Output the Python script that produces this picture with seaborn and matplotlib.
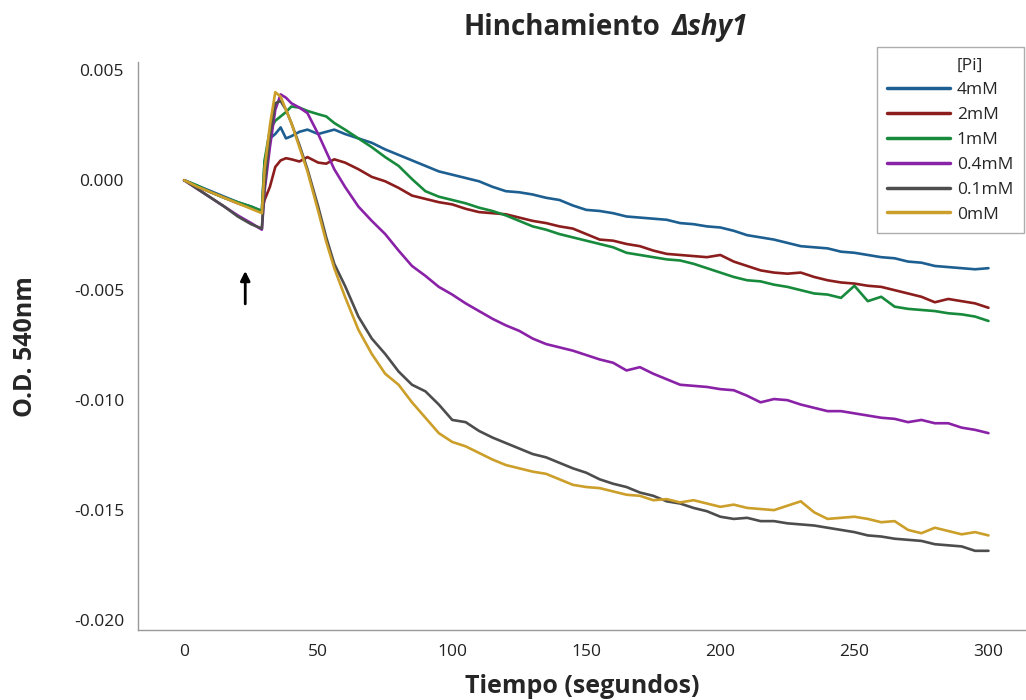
import numpy as np
import pandas as pd
import matplotlib.pyplot as plt
from matplotlib.lines import Line2D
import seaborn as sns

# tiempo (s)
tiempo = [0, 5, 10, 15, 20, 25, 29, 30, 32, 34, 36, 38, 40, 43, 46, 50, 53, 56,
          60, 65, 70, 75, 80, 85, 90, 95, 100, 105,
          110, 115, 120, 125, 130, 135, 140, 145, 150, 155,
          160, 165, 170, 175, 180, 185, 190, 195, 200, 205,
          210, 215, 220, 225, 230, 235, 240, 245, 250, 255,
          260, 265, 270, 275, 280, 285, 290, 295, 300]

# O.D. 540nm, in units of 1e-3
od_4mM = [0.0, -0.25, -0.5, -0.75, -1.0, -1.2, -1.4, 0.8, 1.9, 2.1, 2.4, 1.9, 2.0, 2.2, 2.3, 2.1, 2.2, 2.3,
          2.1, 1.9, 1.7, 1.4, 1.15, 0.9, 0.65, 0.4, 0.25, 0.1,
          -0.05, -0.3, -0.5, -0.55, -0.65, -0.8, -0.9, -1.15, -1.35, -1.4,
          -1.5, -1.65, -1.7, -1.75, -1.8, -1.95, -2.0, -2.1, -2.15, -2.3,
          -2.5, -2.6, -2.7, -2.85, -3.0, -3.05, -3.1, -3.25, -3.3, -3.4,
          -3.5, -3.55, -3.7, -3.75, -3.9, -3.95, -4.0, -4.05, -4.0]
od_2mM = [0.0, -0.3, -0.55, -0.8, -1.05, -1.25, -1.45, -0.9, -0.3, 0.6, 0.9, 1.0, 0.95, 0.85, 1.05, 0.8, 0.75, 0.95,
          0.8, 0.5, 0.15, -0.05, -0.35, -0.7, -0.85, -1.0, -1.1, -1.3,
          -1.45, -1.5, -1.55, -1.7, -1.85, -1.95, -2.1, -2.2, -2.45, -2.7,
          -2.75, -2.9, -3.0, -3.2, -3.35, -3.4, -3.45, -3.5, -3.4, -3.7,
          -3.9, -4.1, -4.2, -4.25, -4.2, -4.4, -4.55, -4.65, -4.7, -4.8,
          -4.85, -5.0, -5.15, -5.3, -5.55, -5.4, -5.5, -5.6, -5.8]
od_1mM = [0.0, -0.25, -0.55, -0.8, -1.0, -1.2, -1.4, 0.9, 2.3, 2.7, 2.9, 3.1, 3.35, 3.3, 3.15, 3.0, 2.9, 2.6,
          2.3, 1.9, 1.5, 1.05, 0.65, 0.05, -0.5, -0.75, -0.9, -1.05,
          -1.25, -1.4, -1.6, -1.85, -2.1, -2.25, -2.45, -2.6, -2.75, -2.9,
          -3.05, -3.3, -3.4, -3.5, -3.6, -3.65, -3.8, -4.0, -4.2, -4.4,
          -4.55, -4.6, -4.75, -4.85, -5.0, -5.15, -5.2, -5.35, -4.8, -5.5,
          -5.3, -5.75, -5.85, -5.9, -5.95, -6.05, -6.1, -6.2, -6.4]
od_04mM = [0.0, -0.4, -0.8, -1.2, -1.6, -1.95, -2.25, -0.5, 1.5, 3.2, 3.9, 3.75, 3.5, 3.3, 3.05, 2.1, 1.3, 0.5,
           -0.3, -1.2, -1.85, -2.45, -3.2, -3.9, -4.35, -4.85, -5.2, -5.6,
           -5.95, -6.3, -6.6, -6.85, -7.2, -7.45, -7.6, -7.75, -7.95, -8.15,
           -8.3, -8.65, -8.5, -8.8, -9.05, -9.3, -9.35, -9.4, -9.5, -9.55,
           -9.8, -10.1, -9.95, -10.0, -10.2, -10.35, -10.5, -10.5, -10.6, -10.7,
           -10.8, -10.85, -11.0, -10.9, -11.05, -11.05, -11.25, -11.35, -11.5]
od_01mM = [0.0, -0.4, -0.8, -1.2, -1.65, -2.0, -2.2, -0.3, 2.0, 3.5, 3.6, 3.2, 2.6, 1.6, 0.5, -1.2, -2.6, -3.8,
           -4.8, -6.2, -7.2, -7.9, -8.7, -9.3, -9.6, -10.2, -10.9, -11.0,
           -11.4, -11.7, -11.95, -12.2, -12.45, -12.6, -12.85, -13.1, -13.3, -13.6,
           -13.8, -13.95, -14.2, -14.35, -14.6, -14.7, -14.9, -15.05, -15.3, -15.4,
           -15.35, -15.5, -15.5, -15.6, -15.65, -15.7, -15.8, -15.9, -16.0, -16.15,
           -16.2, -16.3, -16.35, -16.4, -16.55, -16.6, -16.65, -16.85, -16.85]
od_0mM = [0.0, -0.3, -0.55, -0.8, -1.05, -1.3, -1.5, 0.5, 2.5, 4.0, 3.8, 3.2, 2.6, 1.5, 0.4, -1.4, -2.8, -4.0,
          -5.3, -6.8, -7.9, -8.8, -9.3, -10.1, -10.8, -11.5, -11.9, -12.1,
          -12.4, -12.7, -12.95, -13.1, -13.25, -13.35, -13.6, -13.85, -13.95, -14.0,
          -14.15, -14.3, -14.35, -14.55, -14.5, -14.65, -14.55, -14.7, -14.85, -14.75,
          -14.9, -14.95, -15.0, -14.8, -14.6, -15.1, -15.4, -15.35, -15.3, -15.4,
          -15.55, -15.5, -15.9, -16.05, -15.8, -15.95, -16.1, -16.0, -16.15]

etiquetas = ['4mM', '2mM', '1mM', '0.4mM', '0.1mM', '0mM']
colores = ['#1d5f91', '#8c1d1d', '#178a3c', '#8a22a8', '#4d4d4d', '#cc9f2a']
series = [od_4mM, od_2mM, od_1mM, od_04mM, od_01mM, od_0mM]

df = pd.concat([pd.DataFrame({'t': tiempo, 'od': np.array(s) / 1000, 'Pi': e})
                for s, e in zip(series, etiquetas)], ignore_index=True)

sns.set_style('white')
plt.rcParams['font.family'] = ['Open Sans', 'DejaVu Sans']

fig = plt.figure(figsize=(10.26, 7.0), dpi=100)
ax = fig.add_axes([0.1345, 0.1, 0.8655, 0.811])

sns.lineplot(data=df, x='t', y='od', hue='Pi', hue_order=etiquetas,
             palette=dict(zip(etiquetas, colores)), estimator=None,
             linewidth=1.9, legend=False, ax=ax)

ax.set_xlim(-17.2, 314)
ax.set_ylim(-0.02045, 0.00536)
ax.set_xticks([0, 50, 100, 150, 200, 250, 300])
ax.set_yticks([0.005, 0.0, -0.005, -0.010, -0.015, -0.020])
ax.set_yticklabels(['0.005', '0.000', '-0.005', '-0.010', '-0.015', '-0.020'])
ax.tick_params(axis='both', direction='out', length=4, width=1, color='#999999',
               labelsize=12.5, labelcolor='#222222', pad=6)

for s in ['top', 'right']:
    ax.spines[s].set_visible(False)
for s in ['left', 'bottom']:
    ax.spines[s].set_color('#999999')
    ax.spines[s].set_linewidth(1)

ax.set_xlabel('Tiempo (segundos)', fontsize=18, fontweight='bold', labelpad=10)
ax.set_ylabel('O.D. 540nm', fontsize=18, fontweight='bold', labelpad=26)

fig.text(0.6435, 0.961, 'Hinchamiento', fontsize=20, fontweight='bold', ha='right', va='center')
fig.text(0.655, 0.961, 'Δshy1', fontsize=20, fontweight='bold', style='italic', ha='left', va='center')

# arrow marking addition
ax.annotate('', xy=(22.8, -0.0040), xytext=(22.8, -0.00575),
            arrowprops=dict(arrowstyle='-|>', color='black', lw=2, mutation_scale=14))

handles = [Line2D([], [], color='none')] + [Line2D([], [], color=c, lw=2.5) for c in colores]
leg = ax.legend(handles, ['[Pi]'] + etiquetas, loc='upper left',
                bbox_to_anchor=(877 / 1026, 1 - 47 / 700), bbox_transform=fig.transFigure,
                fontsize=12.5, frameon=True, fancybox=False, handlelength=3.6,
                handletextpad=0.4, labelspacing=0.5, borderpad=0.6, borderaxespad=0)
leg.get_frame().set_edgecolor('#999999')
leg.get_frame().set_linewidth(1)

fig.savefig('out.png', dpi=100)
